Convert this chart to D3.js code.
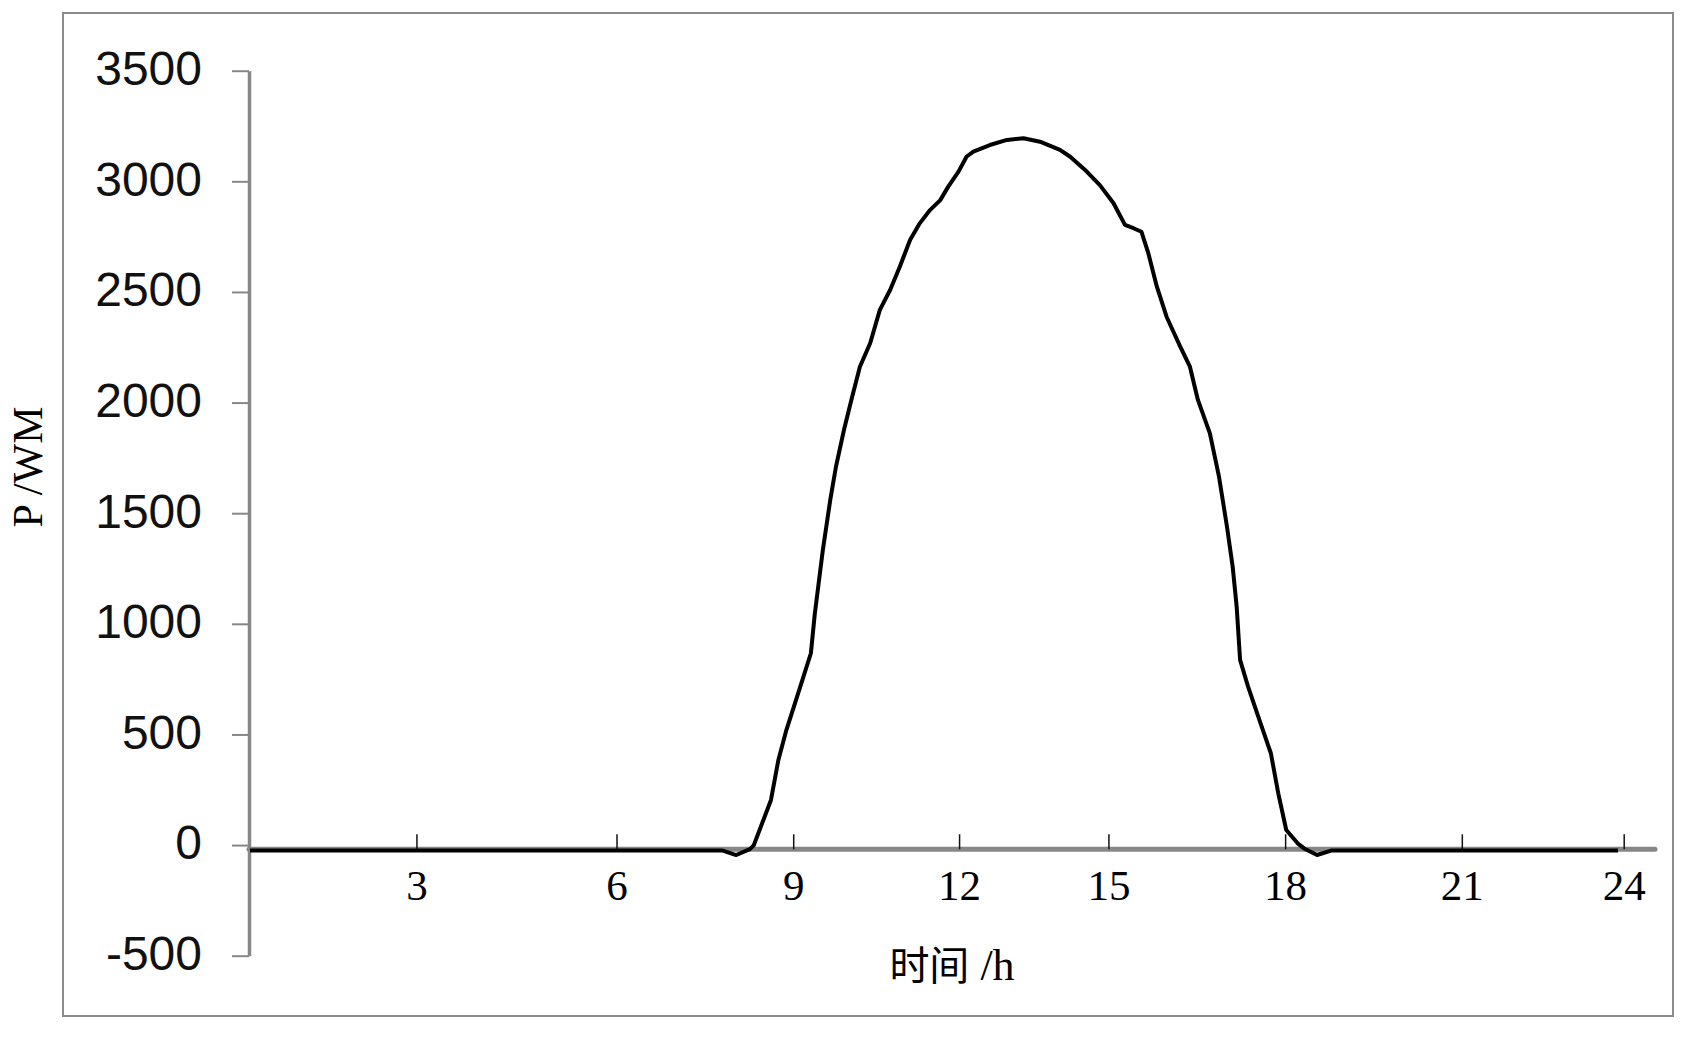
<!DOCTYPE html>
<html>
<head>
<meta charset="utf-8">
<script src="https://cdn.jsdelivr.net/npm/d3@7/dist/d3.min.js"></script>
<style>
  html, body { margin: 0; padding: 0; background: #ffffff; }
  svg { display: block; }
</style>
</head>
<body>
<script>
// ---------------- data ----------------
const hours = [0, 8.28, 8.53, 8.77, 8.84, 9.14, 9.27, 9.41, 9.58, 9.71, 9.84, 9.91, 10.05, 10.18, 10.28, 10.42,
  10.55, 10.70, 10.88, 11.05, 11.23, 11.40, 11.58, 11.75, 11.93, 12.11, 12.25, 12.43, 12.57, 12.69, 12.98,
  13.28, 13.57, 13.86, 14.21, 14.39, 14.68, 14.91, 15.15, 15.35, 15.50, 15.64, 15.76, 15.91, 16.08, 16.32,
  16.49, 16.63, 16.84, 17.00, 17.14, 17.24, 17.31, 17.37, 17.51, 17.71, 17.91, 18.04, 18.18, 18.38, 18.51,
  18.72, 18.98, 24];
const power = [-24, -24, -45, -18, 0, 204, 385, 520, 656, 761, 867, 1048, 1334, 1560, 1710, 1876,
  2012, 2162, 2268, 2419, 2509, 2614, 2735, 2810, 2870, 2915, 2976, 3044, 3111, 3134, 3164,
  3187, 3195, 3179, 3142, 3111, 3044, 2983, 2901, 2803, 2788, 2772, 2675, 2524, 2388, 2253,
  2162, 2012, 1861, 1665, 1439, 1258, 1077, 837, 716, 565, 415, 234, 68, 8, -18,
  -45, -24, -24];

// x tick marks sit where the original chart placed its labels (in hours)
const xTickHours = [2.92, 6.43, 9.53, 12.44, 15.06, 18.16, 21.26, 24.1];
const xTickLabels = ["3", "6", "9", "12", "15", "18", "21", "24"];

const yTickValues = [-500, 0, 500, 1000, 1500, 2000, 2500, 3000, 3500];
const yTickLabels = ["-500", "0", "500", "1000", "1500", "2000", "2500", "3000", "3500"];

const xTitleCJK = "时间";
const xTitleUnit = " /h";
const yTitle = "P /WM";

// ---------------- layout ----------------
const W = 1698, H = 1042;
const frame = { left: 63, top: 13, right: 1673, bottom: 1016 };
const plot = { left: 250, right: 1618, axisEnd: 1655, top: 70.7, bottom: 955.7 };
const xAxisCross = -19;          // value where the horizontal axis crosses
const gray = "#878787";

const svg = d3.select("body").append("svg")
  .attr("width", W).attr("height", H);

svg.append("rect")
  .attr("x", frame.left).attr("y", frame.top)
  .attr("width", frame.right - frame.left).attr("height", frame.bottom - frame.top)
  .attr("fill", "#fff").attr("stroke", "#8c8c8c").attr("stroke-width", 2);

const x = d3.scaleLinear().domain([0, 24]).range([plot.left, plot.right]);
const y = d3.scaleLinear().domain([-500, 3500]).range([plot.bottom, plot.top]);

// ---------------- y axis ----------------
const yAxis = d3.axisLeft(y)
  .tickValues(yTickValues)
  .tickFormat((d, i) => yTickLabels[i])
  .tickSizeInner(17).tickSizeOuter(0).tickPadding(30);

const gy = svg.append("g")
  .attr("transform", `translate(${plot.left - 1},0)`)
  .call(yAxis);
gy.select(".domain").attr("stroke", gray).attr("stroke-width", 3.5);
gy.selectAll(".tick line").attr("stroke", gray).attr("stroke-width", 2);
gy.selectAll(".tick text")
  .attr("fill", "#111")
  .attr("font-family", "'Liberation Sans', Arial, sans-serif")
  .attr("font-size", 48)
  .attr("dy", "0.29em");

// ---------------- x axis ----------------
const axisY = y(xAxisCross);
svg.append("line")
  .attr("x1", plot.left - 1).attr("x2", plot.axisEnd)
  .attr("y1", axisY).attr("y2", axisY)
  .attr("stroke", gray).attr("stroke-width", 5).attr("stroke-linecap", "round");

const xAxis = d3.axisBottom(x)
  .tickValues(xTickHours)
  .tickFormat((d, i) => xTickLabels[i])
  .tickSizeInner(-15).tickSizeOuter(0).tickPadding(20);

const gx = svg.append("g")
  .attr("transform", `translate(0,${axisY})`)
  .call(xAxis);
gx.select(".domain").remove();
gx.selectAll(".tick line").attr("stroke", "#111").attr("stroke-width", 1.5);
gx.selectAll(".tick text")
  .attr("fill", "#000")
  .attr("font-family", "'Liberation Serif', 'Times New Roman', serif")
  .attr("font-size", 43);

// ---------------- line ----------------
const data = hours.map((h, i) => ({ h, v: power[i] }));
const line = d3.line().x(d => x(d.h)).y(d => y(d.v)).curve(d3.curveLinear);

svg.append("path")
  .datum(data)
  .attr("d", line)
  .attr("fill", "none")
  .attr("stroke", "#000")
  .attr("stroke-width", 4)
  .attr("stroke-linejoin", "round")
  .attr("stroke-linecap", "butt");

// ---------------- titles ----------------
const xt = svg.append("text")
  .attr("x", 952)
  .attr("y", 980)
  .attr("text-anchor", "middle")
  .attr("fill", "#000")
  .attr("font-size", 40);
xt.append("tspan").attr("font-family", "'Noto Sans CJK SC', sans-serif").text(xTitleCJK);
xt.append("tspan").attr("font-family", "'Liberation Serif', serif").attr("font-size", 44).text(xTitleUnit);

svg.append("text")
  .attr("transform", "translate(42,467) rotate(-90)")
  .attr("text-anchor", "middle")
  .attr("fill", "#000")
  .attr("font-family", "'Liberation Serif', 'Times New Roman', serif")
  .attr("font-size", 42)
  .text(yTitle);
</script>
</body>
</html>
